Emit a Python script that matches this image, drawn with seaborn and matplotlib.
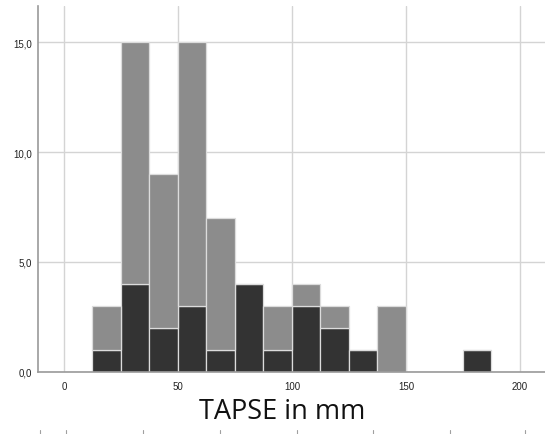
import numpy as np
import pandas as pd
import matplotlib
matplotlib.use("Agg")
import matplotlib.pyplot as plt
from matplotlib.lines import Line2D
from matplotlib.ticker import FuncFormatter
import seaborn as sns

# Histogram bins (mm) and per-bin counts for the two groups
bin_edges = [12.5, 25.0, 37.5, 50.0, 62.5, 75.0, 87.5, 100.0, 112.5,
             125.0, 137.5, 150.0, 162.5, 175.0, 187.5]
counts_light = [2, 11, 7, 12, 6, 0, 2, 1, 1, 0, 3, 0, 0, 0]
counts_dark = [1, 4, 2, 3, 1, 4, 1, 3, 2, 1, 0, 0, 0, 1]
group_names = ["Gruppe 1", "Gruppe 2"]
x_ticks = [0, 50, 100, 150, 200]
y_ticks = [0, 5, 10, 15]
x_label = "TAPSE in mm"

centers = [(a + b) / 2 for a, b in zip(bin_edges[:-1], bin_edges[1:])]
df = pd.DataFrame({
    "tapse": centers * 2,
    "n": counts_light + counts_dark,
    "gruppe": [group_names[0]] * len(centers) + [group_names[1]] * len(centers),
})

sns.set_style("white")
plt.rcParams["font.family"] = ["Liberation Sans", "DejaVu Sans"]

fig = plt.figure(figsize=(5.45, 4.35), dpi=100)
ax = fig.add_axes([37.7 / 545, 62.3 / 435, 1 - 37.7 / 545, (372.7 - 6.7) / 435])

sns.histplot(
    data=df, x="tapse", weights="n", hue="gruppe", hue_order=group_names,
    multiple="stack", bins=bin_edges, stat="count",
    palette={group_names[0]: "#8c8c8c", group_names[1]: "#333333"},
    alpha=1, edgecolor="#dcdcdc", linewidth=0.9, legend=False, ax=ax, zorder=2,
)

ax.set_xlim(-11.5, 211)
ax.set_ylim(0, 16.67)
ax.set_xticks(x_ticks)
ax.set_yticks(y_ticks)
ax.yaxis.set_major_formatter(FuncFormatter(lambda v, p: f"{v:.1f}".replace(".", ",")))
ax.tick_params(axis="both", length=0, labelsize=7, colors="#222222", pad=4)
ax.tick_params(axis="x", pad=7)
ax.grid(True, color="#d4d4d4", linewidth=1.0, zorder=0)
ax.set_axisbelow(True)
for side in ["top", "right"]:
    ax.spines[side].set_visible(False)
for side in ["left", "bottom"]:
    ax.spines[side].set_color("#9a9a9a")
    ax.spines[side].set_linewidth(1.2)
ax.set_xlabel("")
ax.set_ylabel("")

fig.text(282 / 545, 1 - 412 / 435, x_label, ha="center", va="center",
         fontsize=19.5, family=["Open Sans", "DejaVu Sans"], color="#111111")

# small scale marks along the lower edge
for px in [40, 66, 143, 220, 297, 373, 450, 525]:
    fig.add_artist(Line2D([px / 545, px / 545], [0, 4 / 435],
                          color="#a0a0a0", linewidth=0.8, transform=fig.transFigure))

fig.savefig("out.png", dpi=100, facecolor="white")
